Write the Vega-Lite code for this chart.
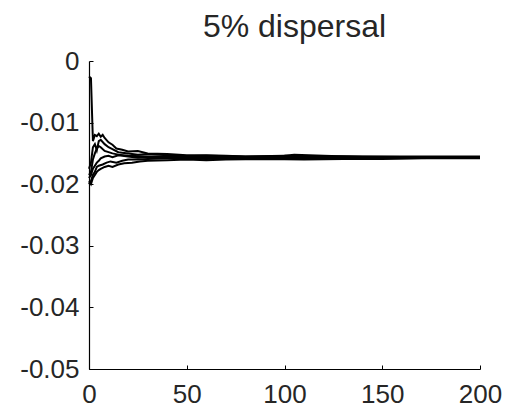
{
  "$schema": "https://vega.github.io/schema/vega-lite/v6.json",
  "width": 391,
  "height": 308,
  "autosize": {"type": "none"},
  "padding": {"left": 89, "top": 61, "right": 26, "bottom": 39},
  "background": "white",
  "title": {"text": "5% dispersal", "fontSize": 32, "font": "Liberation Sans", "fontWeight": "normal", "color": "#262626", "anchor": "middle", "dx": 10, "offset": 4},
  "config": {"view": {"stroke": null}},
  "data": {"values": [
    {"s":"a","t":0,"v":-0.0025},{"s":"a","t":1,"v":-0.0028},{"s":"a","t":2,"v":-0.013},{"s":"a","t":3,"v":-0.012},{"s":"a","t":4,"v":-0.0122},{"s":"a","t":5,"v":-0.0118},{"s":"a","t":6,"v":-0.0123},{"s":"a","t":7,"v":-0.012},{"s":"a","t":8,"v":-0.0125},{"s":"a","t":10,"v":-0.0132},{"s":"a","t":12,"v":-0.0136},{"s":"a","t":14,"v":-0.0142},{"s":"a","t":17,"v":-0.0144},{"s":"a","t":20,"v":-0.0147},{"s":"a","t":25,"v":-0.0146},{"s":"a","t":30,"v":-0.015},{"s":"a","t":40,"v":-0.0151},{"s":"a","t":50,"v":-0.0153},{"s":"a","t":60,"v":-0.0153},{"s":"a","t":70,"v":-0.0154},{"s":"a","t":80,"v":-0.0155},{"s":"a","t":100,"v":-0.0154},{"s":"a","t":120,"v":-0.0155},{"s":"a","t":140,"v":-0.0155},{"s":"a","t":160,"v":-0.0155},{"s":"a","t":180,"v":-0.0155},{"s":"a","t":200,"v":-0.0155},
    {"s":"b","t":0,"v":-0.0175},{"s":"b","t":1,"v":-0.0165},{"s":"b","t":2,"v":-0.014},{"s":"b","t":3,"v":-0.0135},{"s":"b","t":4,"v":-0.0145},{"s":"b","t":5,"v":-0.013},{"s":"b","t":6,"v":-0.0128},{"s":"b","t":8,"v":-0.0135},{"s":"b","t":10,"v":-0.014},{"s":"b","t":12,"v":-0.0143},{"s":"b","t":15,"v":-0.0148},{"s":"b","t":20,"v":-0.015},{"s":"b","t":25,"v":-0.0152},{"s":"b","t":30,"v":-0.0151},{"s":"b","t":40,"v":-0.0153},{"s":"b","t":50,"v":-0.0155},{"s":"b","t":60,"v":-0.0155},{"s":"b","t":80,"v":-0.0156},{"s":"b","t":100,"v":-0.0154},{"s":"b","t":105,"v":-0.0152},{"s":"b","t":120,"v":-0.0154},{"s":"b","t":140,"v":-0.0156},{"s":"b","t":160,"v":-0.0156},{"s":"b","t":200,"v":-0.0156},
    {"s":"c","t":0,"v":-0.019},{"s":"c","t":1,"v":-0.0185},{"s":"c","t":2,"v":-0.0175},{"s":"c","t":3,"v":-0.017},{"s":"c","t":4,"v":-0.0165},{"s":"c","t":5,"v":-0.0162},{"s":"c","t":6,"v":-0.0158},{"s":"c","t":8,"v":-0.0155},{"s":"c","t":10,"v":-0.0154},{"s":"c","t":12,"v":-0.0156},{"s":"c","t":15,"v":-0.0153},{"s":"c","t":20,"v":-0.0155},{"s":"c","t":25,"v":-0.0157},{"s":"c","t":30,"v":-0.0156},{"s":"c","t":40,"v":-0.0157},{"s":"c","t":50,"v":-0.0156},{"s":"c","t":60,"v":-0.0157},{"s":"c","t":80,"v":-0.0156},{"s":"c","t":100,"v":-0.0157},{"s":"c","t":120,"v":-0.0156},{"s":"c","t":150,"v":-0.0157},{"s":"c","t":200,"v":-0.0157},
    {"s":"d","t":0,"v":-0.02},{"s":"d","t":1,"v":-0.0195},{"s":"d","t":2,"v":-0.0185},{"s":"d","t":3,"v":-0.018},{"s":"d","t":4,"v":-0.0172},{"s":"d","t":5,"v":-0.017},{"s":"d","t":7,"v":-0.0168},{"s":"d","t":9,"v":-0.0165},{"s":"d","t":11,"v":-0.0163},{"s":"d","t":14,"v":-0.0165},{"s":"d","t":17,"v":-0.0162},{"s":"d","t":20,"v":-0.016},{"s":"d","t":25,"v":-0.016},{"s":"d","t":30,"v":-0.0159},{"s":"d","t":40,"v":-0.0158},{"s":"d","t":50,"v":-0.0158},{"s":"d","t":60,"v":-0.0159},{"s":"d","t":70,"v":-0.0158},{"s":"d","t":90,"v":-0.0159},{"s":"d","t":110,"v":-0.0158},{"s":"d","t":130,"v":-0.0157},{"s":"d","t":150,"v":-0.0158},{"s":"d","t":200,"v":-0.0157},
    {"s":"e","t":0,"v":-0.0195},{"s":"e","t":1,"v":-0.02},{"s":"e","t":2,"v":-0.019},{"s":"e","t":3,"v":-0.0185},{"s":"e","t":4,"v":-0.018},{"s":"e","t":5,"v":-0.0177},{"s":"e","t":6,"v":-0.0175},{"s":"e","t":8,"v":-0.0172},{"s":"e","t":10,"v":-0.017},{"s":"e","t":12,"v":-0.0172},{"s":"e","t":15,"v":-0.0168},{"s":"e","t":18,"v":-0.0166},{"s":"e","t":22,"v":-0.0165},{"s":"e","t":26,"v":-0.0163},{"s":"e","t":30,"v":-0.0162},{"s":"e","t":40,"v":-0.0161},{"s":"e","t":50,"v":-0.016},{"s":"e","t":60,"v":-0.0161},{"s":"e","t":70,"v":-0.016},{"s":"e","t":90,"v":-0.0159},{"s":"e","t":110,"v":-0.016},{"s":"e","t":130,"v":-0.0159},{"s":"e","t":150,"v":-0.0159},{"s":"e","t":170,"v":-0.0158},{"s":"e","t":200,"v":-0.0158},
    {"s":"f","t":0,"v":-0.0185},{"s":"f","t":1,"v":-0.018},{"s":"f","t":2,"v":-0.016},{"s":"f","t":3,"v":-0.015},{"s":"f","t":4,"v":-0.0142},{"s":"f","t":5,"v":-0.0138},{"s":"f","t":6,"v":-0.014},{"s":"f","t":8,"v":-0.0146},{"s":"f","t":10,"v":-0.0148},{"s":"f","t":12,"v":-0.015},{"s":"f","t":15,"v":-0.0152},{"s":"f","t":20,"v":-0.0154},{"s":"f","t":30,"v":-0.0155},{"s":"f","t":40,"v":-0.0155},{"s":"f","t":60,"v":-0.0154},{"s":"f","t":80,"v":-0.0155},{"s":"f","t":100,"v":-0.0156},{"s":"f","t":130,"v":-0.0155},{"s":"f","t":160,"v":-0.0156},{"s":"f","t":200,"v":-0.0156}
  ]},
  "mark": {"type": "line", "color": "black", "strokeWidth": 2, "interpolate": "linear"},
  "encoding": {
    "detail": {"field": "s", "type": "nominal"},
    "x": {"field": "t", "type": "quantitative", "scale": {"domain": [0, 200], "nice": false, "zero": false},
      "axis": {"title": null, "values": [0, 50, 100, 150, 200], "format": "d", "labelFlush": false, "grid": false, "domainColor": "black", "domainWidth": 1.2, "tickColor": "black", "tickSize": -4, "labelPadding": 16, "labelFont": "Liberation Sans", "labelFontSize": 26, "labelColor": "#262626"}},
    "y": {"field": "v", "type": "quantitative", "scale": {"domain": [-0.05, 0], "nice": false, "zero": false},
      "axis": {"title": null, "values": [0, -0.01, -0.02, -0.03, -0.04, -0.05], "labelExpr": "datum.value == 0 ? '0' : '-0.0' + round(-datum.value*100)", "labelFlush": false, "grid": false, "domainColor": "black", "domainWidth": 1.2, "tickColor": "black", "tickSize": -4, "labelPadding": 14, "labelFont": "Liberation Sans", "labelFontSize": 26, "labelColor": "#262626"}}
  }
}
